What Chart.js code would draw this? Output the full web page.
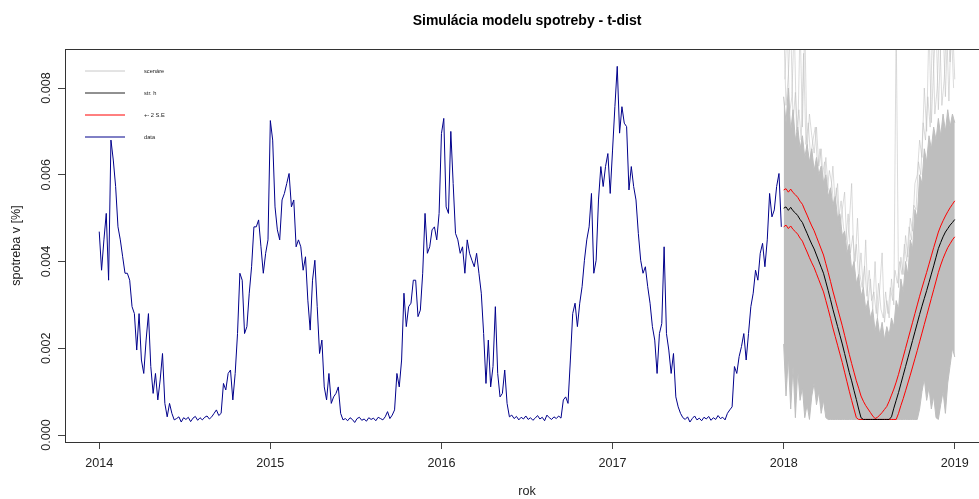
<!DOCTYPE html>
<html>
<head>
<meta charset="utf-8">
<title>Simulácia modelu spotreby - t-dist</title>
<script src="https://cdn.jsdelivr.net/npm/chart.js@4.4.1/dist/chart.umd.min.js"></script>
<style>
  html, body { margin: 0; padding: 0; background: #fff; overflow: hidden; }
  #wrap { width: 992px; height: 499px; }
</style>
</head>
<body>
<div id="wrap"><canvas id="c" width="992" height="499"></canvas></div>
<script>
// Daily consumption share, sampled every 5 days (73 samples per year)
const data2014 = [
  0.00469,0.00380,0.00450,0.00511,0.00357,0.00680,0.00634,0.00573,0.00480,0.00450,
  0.00411,0.00373,0.00373,0.00357,0.00296,0.00280,0.00196,0.00280,0.00173,0.00142,
  0.00219,0.00280,0.00158,0.00096,0.00142,0.00081,0.00127,0.00188,0.00073,0.00042,
  0.00073,0.00050,0.00035,0.00038,0.00042,0.00030,0.00040,0.00036,0.00041,0.00031,
  0.00039,0.00043,0.00034,0.00040,0.00035,0.00041,0.00044,0.00037,0.00042,0.00050,
  0.00058,0.00045,0.00050,0.00119,0.00104,0.00142,0.00150,0.00081,0.00142,0.00234,
  0.00373,0.00357,0.00234,0.00250,0.00327,0.00388,0.00480,0.00480,0.00496,0.00434,
  0.00373,0.00419,0.00450
];
const data2015 = [
  0.00725,0.00680,0.00526,0.00473,0.00450,0.00542,0.00557,0.00580,0.00603,0.00526,
  0.00542,0.00434,0.00450,0.00434,0.00380,0.00411,0.00311,0.00242,0.00357,0.00403,
  0.00296,0.00188,0.00219,0.00111,0.00081,0.00142,0.00073,0.00088,0.00096,0.00111,
  0.00050,0.00035,0.00038,0.00033,0.00040,0.00036,0.00029,0.00038,0.00041,0.00034,
  0.00037,0.00032,0.00040,0.00036,0.00039,0.00033,0.00041,0.00038,0.00035,0.00042,
  0.00054,0.00038,0.00046,0.00058,0.00142,0.00111,0.00173,0.00327,0.00250,0.00296,
  0.00304,0.00357,0.00357,0.00273,0.00288,0.00373,0.00511,0.00419,0.00434,0.00473,
  0.00480,0.00450,0.00511
];
const data2016 = [
  0.00695,0.00730,0.00526,0.00511,0.00700,0.00580,0.00465,0.00450,0.00419,0.00434,
  0.00373,0.00450,0.00419,0.00403,0.00388,0.00419,0.00373,0.00327,0.00234,0.00119,
  0.00219,0.00111,0.00158,0.00296,0.00142,0.00088,0.00096,0.00150,0.00073,0.00042,
  0.00046,0.00038,0.00043,0.00035,0.00041,0.00037,0.00044,0.00036,0.00040,0.00034,
  0.00039,0.00045,0.00037,0.00041,0.00033,0.00046,0.00040,0.00036,0.00042,0.00038,
  0.00044,0.00039,0.00081,0.00088,0.00073,0.00173,0.00280,0.00304,0.00250,0.00304,
  0.00342,0.00403,0.00450,0.00480,0.00557,0.00373,0.00403,0.00542,0.00619,0.00573,
  0.00619,0.00649,0.00557
];
const data2017 = [
  0.00657,0.00757,0.00850,0.00696,0.00757,0.00719,0.00711,0.00565,0.00619,0.00573,
  0.00542,0.00465,0.00403,0.00373,0.00388,0.00342,0.00304,0.00250,0.00219,0.00142,
  0.00234,0.00257,0.00434,0.00234,0.00196,0.00142,0.00188,0.00088,0.00065,0.00050,
  0.00040,0.00036,0.00042,0.00030,0.00038,0.00044,0.00035,0.00039,0.00033,0.00041,
  0.00037,0.00043,0.00034,0.00040,0.00036,0.00045,0.00038,0.00041,0.00035,0.00050,
  0.00058,0.00065,0.00158,0.00142,0.00181,0.00204,0.00234,0.00173,0.00234,0.00296,
  0.00327,0.00380,0.00357,0.00419,0.00442,0.00388,0.00450,0.00557,0.00503,0.00519,
  0.00573,0.00603,0.00480
];

// 2018 simulation (74 samples, every 5 days up to 2019-01-01)
const simMean = [
  0.00523,0.00526,0.00518,0.00525,0.00517,0.00512,0.00506,0.00497,0.00490,0.00477,
  0.00465,0.00452,0.00440,0.00429,0.00415,0.00401,0.00387,0.00373,0.00353,0.00333,
  0.00312,0.00290,0.00270,0.00250,0.00230,0.00210,0.00188,0.00166,0.00144,0.00125,
  0.00103,0.00082,0.00060,0.00040,0.00036,0.00036,0.00036,0.00036,0.00036,0.00036,
  0.00036,0.00036,0.00036,0.00036,0.00036,0.00036,0.00042,0.00062,0.00080,0.00098,
  0.00118,0.00138,0.00158,0.00178,0.00198,0.00218,0.00238,0.00258,0.00278,0.00297,
  0.00315,0.00333,0.00352,0.00371,0.00390,0.00410,0.00430,0.00444,0.00457,0.00468,
  0.00476,0.00484,0.00490,0.00497
];
const simUpper = [
  0.00565,0.00568,0.00560,0.00567,0.00559,0.00554,0.00548,0.00539,0.00532,0.00519,
  0.00507,0.00494,0.00482,0.00471,0.00457,0.00443,0.00429,0.00415,0.00395,0.00375,
  0.00354,0.00332,0.00312,0.00292,0.00272,0.00252,0.00230,0.00208,0.00186,0.00165,
  0.00145,0.00125,0.00108,0.00090,0.00078,0.00068,0.00060,0.00052,0.00044,0.00038,
  0.00041,0.00046,0.00052,0.00059,0.00066,0.00078,0.00092,0.00106,0.00122,0.00140,
  0.00160,0.00180,0.00200,0.00220,0.00240,0.00260,0.00280,0.00300,0.00320,0.00339,
  0.00357,0.00375,0.00394,0.00413,0.00432,0.00450,0.00468,0.00482,0.00494,0.00505,
  0.00515,0.00524,0.00532,0.00540
];
const simLower = [
  0.00480,0.00484,0.00476,0.00482,0.00474,0.00469,0.00463,0.00454,0.00447,0.00434,
  0.00422,0.00409,0.00397,0.00386,0.00372,0.00358,0.00344,0.00330,0.00310,0.00290,
  0.00269,0.00247,0.00227,0.00207,0.00187,0.00167,0.00145,0.00123,0.00101,0.00080,
  0.00060,0.00040,0.00036,0.00036,0.00036,0.00036,0.00036,0.00036,0.00036,0.00036,
  0.00036,0.00036,0.00036,0.00036,0.00036,0.00036,0.00036,0.00036,0.00036,0.00050,
  0.00068,0.00084,0.00102,0.00120,0.00138,0.00157,0.00176,0.00195,0.00215,0.00235,
  0.00255,0.00275,0.00295,0.00315,0.00335,0.00355,0.00375,0.00392,0.00407,0.00420,
  0.00432,0.00441,0.00450,0.00457
];
// Upper and lower edge of the bulk of the simulated scenarios
const scenHigh = [
  0.0078,0.0072,0.0080,0.0070,0.0075,0.0068,0.0071,0.0066,0.0069,0.0064,
  0.0067,0.0063,0.0066,0.0061,0.0064,0.0060,0.0062,0.0058,0.0060,0.0055,
  0.0057,0.0053,0.0055,0.0050,0.0051,0.0046,0.0047,0.0042,0.0044,0.0038,
  0.0040,0.0035,0.0037,0.0032,0.0034,0.0029,0.0031,0.0027,0.0029,0.0024,
  0.0027,0.0023,0.0026,0.0022,0.0025,0.0023,0.0027,0.0025,0.0031,0.0029,
  0.0036,0.0033,0.0040,0.0037,0.0045,0.0043,0.0052,0.0050,0.0060,0.0058,
  0.0066,0.0063,0.0069,0.0066,0.0071,0.0068,0.0073,0.0069,0.0074,0.0070,
  0.0075,0.0071,0.0074,0.0072
];
const scenLow = [
  0.0021,0.0009,0.0018,0.0006,0.0016,0.0004,0.0015,0.0008,0.0011,0.0004,
  0.0007,0.00036,0.0009,0.0012,0.0007,0.0010,0.0005,0.0008,0.0004,0.00036,
  0.00036,0.00036,0.00036,0.00036,0.00036,0.00036,0.00036,0.00036,0.00036,0.00036,
  0.00036,0.00036,0.00036,0.00036,0.00036,0.00036,0.00036,0.00036,0.00036,0.00036,
  0.00036,0.00036,0.00036,0.00036,0.00036,0.00036,0.00036,0.00036,0.00036,0.00036,
  0.00036,0.00036,0.00036,0.00036,0.00036,0.00036,0.00036,0.00036,0.0006,0.0010,
  0.0013,0.0008,0.0011,0.0006,0.0009,0.0004,0.00036,0.0007,0.0010,0.0005,
  0.0012,0.0016,0.0020,0.0018
];
// Two outlying scenario paths with the sharp excursions above the bulk
const scenOutA = [
  0.0095,0.0076,0.0083,0.0095,0.0072,0.0079,0.0068,0.0095,0.0071,0.0095,
  0.0066,0.0074,0.0069,0.0065,0.0071,0.0062,0.0066,0.0058,0.0064,0.0057,
  0.0055,0.0062,0.0053,0.0058,0.0047,0.0052,0.0056,0.0043,0.0049,0.0058,
  0.0039,0.0044,0.0036,0.0042,0.0033,0.0045,0.0030,0.0036,0.0029,0.0040,
  0.0027,0.0034,0.0042,0.0026,0.0031,0.0027,0.0036,0.0030,0.0095,0.0034,
  0.0041,0.0037,0.0046,0.0041,0.0050,0.0047,0.0058,0.0060,0.0068,0.0064,
  0.0080,0.0070,0.0095,0.0072,0.0085,0.0095,0.0075,0.0090,0.0095,0.0078,
  0.0095,0.0086,0.0095,0.0082
];
const scenOutB = [
  0.0082,0.0095,0.0074,0.0078,0.0095,0.0070,0.0075,0.0068,0.0088,0.0067,
  0.0072,0.0064,0.0068,0.0071,0.0061,0.0066,0.0060,0.0063,0.0056,0.0061,
  0.0058,0.0052,0.0057,0.0050,0.0054,0.0048,0.0045,0.0051,0.0042,0.0046,
  0.0040,0.0050,0.0037,0.0034,0.0039,0.0032,0.0038,0.0031,0.0033,0.0028,
  0.0035,0.0029,0.0027,0.0033,0.0028,0.0034,0.0031,0.0038,0.0035,0.0040,
  0.0037,0.0044,0.0040,0.0048,0.0045,0.0053,0.0052,0.0063,0.0060,0.0072,
  0.0068,0.0078,0.0071,0.0095,0.0074,0.0080,0.0095,0.0076,0.0082,0.0095,
  0.0077,0.0095,0.0080,0.0076
];

const xTicks = [2014, 2015, 2016, 2017, 2018, 2019];
const yTicks = [0, 0.002, 0.004, 0.006, 0.008];
const legendLabels = ['scenáre', 'str. h', '+- 2 S.E', 'data'];

const STEP_DAYS = 5;
function toPoints(start, values) {
  return values.map((v, i) => ({ x: start + i * STEP_DAYS / 365, y: v }));
}
const observed = [].concat(
  toPoints(2014, data2014), toPoints(2015, data2015),
  toPoints(2016, data2016), toPoints(2017, data2017)
);
const HALF_STEP = 2.5 / 365;

const FONT = "'Liberation Sans', Arial, sans-serif";
Chart.defaults.font.family = FONT;

const C_SCEN = '#bebebe';
const C_SCEN_LIGHT = 'rgba(190,190,190,0.55)';
const C_MEAN = '#000000';
const C_SE = '#ff0000';
const C_DATA = '#00008b';

// Frame, titles, y tick labels and the legend, in base-graphics style
const decor = {
  id: 'decor',
  afterDatasetsDraw(chart) {
    const { ctx, chartArea: a, scales } = chart;
    ctx.save();
    ctx.strokeStyle = '#333';
    ctx.lineWidth = 1;
    ctx.strokeRect(a.left + 0.5, a.top + 0.5, a.right - a.left, a.bottom - a.top);

    ctx.fillStyle = '#000';
    ctx.font = 'bold 14px ' + FONT;
    ctx.textAlign = 'center';
    ctx.textBaseline = 'alphabetic';
    const cx = (a.left + a.right) / 2;
    ctx.fillText('Simulácia modelu spotreby - t-dist', cx, 25);

    ctx.font = '12.6px ' + FONT;
    ctx.fillStyle = '#222';
    ctx.textBaseline = 'middle';
    ctx.fillText('rok', cx, 492);

    const cy = (a.top + a.bottom) / 2;
    ctx.save();
    ctx.translate(20, cy);
    ctx.rotate(-Math.PI / 2);
    ctx.textBaseline = 'alphabetic';
    ctx.fillText('spotreba v [%]', 0, 0);
    ctx.restore();

    yTicks.forEach(v => {
      const py = scales.y.getPixelForValue(v);
      ctx.save();
      ctx.translate(50, py);
      ctx.rotate(-Math.PI / 2);
      ctx.textAlign = 'center';
      ctx.textBaseline = 'alphabetic';
      ctx.fillText(v.toFixed(3), 0, 0);
      ctx.restore();
    });

    // legend
    const colors = ['#c8c8c8', '#222', C_SE, C_DATA];
    const rows = [71, 93, 115, 137];
    ctx.font = '5.7px ' + FONT;
    ctx.textAlign = 'left';
    ctx.textBaseline = 'middle';
    rows.forEach((ry, k) => {
      ctx.strokeStyle = colors[k];
      ctx.lineWidth = 1;
      ctx.beginPath();
      ctx.moveTo(85, ry);
      ctx.lineTo(125, ry);
      ctx.stroke();
      ctx.fillStyle = '#222';
      ctx.fillText(legendLabels[k], 144, ry);
    });
    ctx.restore();
  }
};

new Chart(document.getElementById('c'), {
  type: 'line',
  data: {
    datasets: [
      { label: 'str. h', data: toPoints(2018, simMean), borderColor: C_MEAN, borderWidth: 1, order: 0 },
      { label: '+ 2 S.E', data: toPoints(2018, simUpper), borderColor: C_SE, borderWidth: 1, order: 1 },
      { label: '- 2 S.E', data: toPoints(2018, simLower), borderColor: C_SE, borderWidth: 1, order: 2 },
      { label: 'data', data: observed, borderColor: C_DATA, borderWidth: 1, order: 3 },
      { label: 'scenáre A', data: toPoints(2018, scenOutA), borderColor: C_SCEN_LIGHT, borderWidth: 1, order: 4 },
      { label: 'scenáre B', data: toPoints(2018 + HALF_STEP, scenOutB).slice(0, 73), borderColor: C_SCEN_LIGHT, borderWidth: 1, order: 5 },
      { label: 'scenáre max', data: toPoints(2018, scenHigh), borderColor: C_SCEN, backgroundColor: C_SCEN,
        borderWidth: 1, fill: '+1', order: 6 },
      { label: 'scenáre min', data: toPoints(2018, scenLow), borderColor: C_SCEN, borderWidth: 1, order: 7 }
    ]
  },
  options: {
    responsive: false,
    animation: false,
    devicePixelRatio: 1,
    events: [],
    layout: { padding: { top: 49, right: 3, left: 0, bottom: 0 } },
    elements: { point: { radius: 0 }, line: { tension: 0, fill: false } },
    plugins: { legend: { display: false }, tooltip: { enabled: false }, title: { display: false } },
    scales: {
      x: {
        type: 'linear',
        min: 2013.8,
        max: 2019.2,
        afterBuildTicks: s => { s.ticks = xTicks.map(v => ({ value: v })); },
        afterFit: s => { s.height = 57; },
        border: { display: false },
        grid: { drawOnChartArea: false, drawTicks: true, tickLength: 7, color: '#444' },
        ticks: {
          autoSkip: false, maxRotation: 0, padding: 7, color: '#222',
          font: { size: 12.6, family: FONT },
          callback: v => String(v)
        }
      },
      y: {
        type: 'linear',
        min: -0.00016,
        max: 0.0089,
        afterBuildTicks: s => { s.ticks = yTicks.map(v => ({ value: v })); },
        afterFit: s => { s.width = 65; },
        border: { display: false },
        grid: { drawOnChartArea: false, drawTicks: true, tickLength: 7, color: '#444' },
        ticks: { display: false }
      }
    }
  },
  plugins: [decor]
});
</script>
</body>
</html>
